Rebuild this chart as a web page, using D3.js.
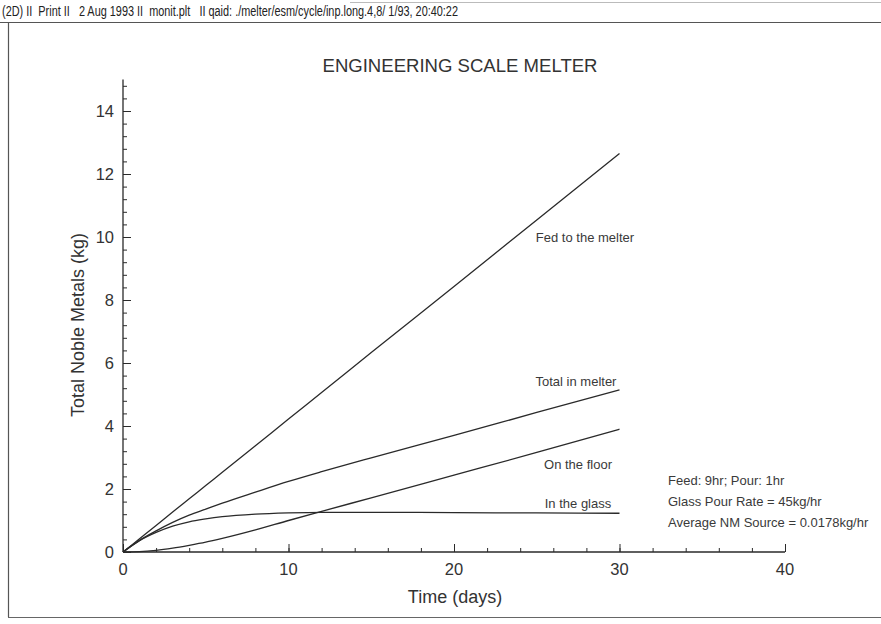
<!DOCTYPE html>
<html>
<head>
<meta charset="utf-8">
<script src="https://cdn.jsdelivr.net/npm/d3@7/dist/d3.min.js"></script>
<style>
  html, body { margin: 0; padding: 0; background: #fff; }
  svg { display: block; }
  text { font-family: "Liberation Sans", Arial, Helvetica, sans-serif; fill: #333; }
</style>
</head>
<body>
<svg id="chart" width="881" height="624"></svg>
<script>
// Simulation output: noble metal inventory in the engineering scale melter
const days          = [0, 1, 2, 3, 4, 5, 6, 8, 10, 12, 15, 20, 25, 30];
const fedToMelter   = [0, 0.42, 0.84, 1.27, 1.69, 2.11, 2.53, 3.37, 4.22, 5.06, 6.33, 8.43, 10.54, 12.65];
const totalInMelter = [0, 0.37, 0.67, 0.94, 1.17, 1.36, 1.55, 1.90, 2.24, 2.55, 2.99, 3.70, 4.43, 5.15];
const onTheFloor    = [0, 0.01, 0.05, 0.12, 0.21, 0.31, 0.43, 0.70, 1.00, 1.29, 1.72, 2.44, 3.16, 3.90];
const inTheGlass    = [0, 0.36, 0.62, 0.82, 0.96, 1.05, 1.12, 1.20, 1.24, 1.26, 1.26, 1.25, 1.24, 1.23];

const seriesNames = ["Fed to the melter", "Total in melter", "On the floor", "In the glass"];
const xTicks = [0, 10, 20, 30, 40];
const yTicks = [0, 2, 4, 6, 8, 10, 12, 14];
const headerText = "(2D) II  Print II   2 Aug 1993 II  monit.plt   II qaid: ./melter/esm/cycle/inp.long.4,8/ 1/93, 20:40:22";
const notes = ["Feed: 9hr; Pour: 1hr", "Glass Pour Rate = 45kg/hr", "Average NM Source = 0.0178kg/hr"];

const svg = d3.select("#chart");
const ink = "#2a2a2a";

// page frame and header strip
svg.append("line").attr("x1", 350).attr("x2", 881).attr("y1", 2.5).attr("y2", 2.5)
  .attr("stroke", "#bbb").attr("stroke-width", 1);
svg.append("line").attr("x1", 0).attr("x2", 881).attr("y1", 22.5).attr("y2", 22.5)
  .attr("stroke", "#555").attr("stroke-width", 1.2);
svg.append("line").attr("x1", 8.5).attr("x2", 8.5).attr("y1", 22).attr("y2", 617)
  .attr("stroke", "#555").attr("stroke-width", 1.2);
svg.append("line").attr("x1", 8).attr("x2", 881).attr("y1", 617.5).attr("y2", 617.5)
  .attr("stroke", "#666").attr("stroke-width", 1.2);
svg.append("text").attr("x", 2).attr("y", 16)
  .attr("textLength", 456).attr("lengthAdjust", "spacingAndGlyphs")
  .attr("xml:space", "preserve").style("white-space", "pre")
  .style("font-family", "'Liberation Sans Narrow', 'Liberation Sans', Arial, sans-serif")
  .style("font-size", "14px").style("fill", "#222")
  .text(headerText);

// scales
const x = d3.scaleLinear().domain([0, 40]).range([123, 785]);
const y = d3.scaleLinear().domain([0, 15]).range([552, 79.5]);

// x axis: ticks drawn inward (upwards)
const xAxis = svg.append("g").attr("transform", `translate(0,${y(0)})`);
xAxis.call(d3.axisTop(x).tickValues(d3.range(0, 41, 2)).tickSize(4).tickFormat(""))
  .call(g => g.select(".domain").remove());
xAxis.append("g").call(d3.axisTop(x).tickValues(xTicks).tickSize(8).tickFormat(""))
  .call(g => g.select(".domain").remove());
xAxis.selectAll("line").attr("stroke", ink).attr("stroke-width", 1);
xAxis.append("line").attr("x1", x(0)).attr("x2", x(40)).attr("stroke", ink).attr("stroke-width", 1.3);
xAxis.selectAll(".xlab").data(xTicks).join("text").attr("class", "xlab")
  .attr("x", d => x(d)).attr("y", 23).attr("text-anchor", "middle")
  .style("font-size", "16.5px").text(d => d);

// y axis: ticks drawn inward (rightwards)
const yAxis = svg.append("g").attr("transform", `translate(${x(0)},0)`);
yAxis.call(d3.axisRight(y).tickValues(d3.range(0, 75, 2).map(v => v / 5)).tickSize(4).tickFormat(""))
  .call(g => g.select(".domain").remove());
yAxis.append("g").call(d3.axisRight(y).tickValues(yTicks).tickSize(8).tickFormat(""))
  .call(g => g.select(".domain").remove());
yAxis.selectAll("line").attr("stroke", ink).attr("stroke-width", 1);
yAxis.append("line").attr("y1", y(0)).attr("y2", y(15)).attr("stroke", ink).attr("stroke-width", 1.3);
yAxis.selectAll(".ylab").data(yTicks).join("text").attr("class", "ylab")
  .attr("x", -9).attr("y", d => y(d) + 6).attr("text-anchor", "end")
  .style("font-size", "16.5px").text(d => d);

// axis titles and chart title
svg.append("text").attr("x", 455).attr("y", 603).attr("text-anchor", "middle")
  .style("font-size", "18px").text("Time (days)");
svg.append("text").attr("transform", "translate(84,325) rotate(-90)").attr("text-anchor", "middle")
  .style("font-size", "18px").text("Total Noble Metals (kg)");
svg.append("text").attr("x", 460).attr("y", 72).attr("text-anchor", "middle")
  .style("font-size", "19px").attr("textLength", 275).attr("lengthAdjust", "spacingAndGlyphs")
  .text("ENGINEERING SCALE MELTER");

// curves
const series = [fedToMelter, totalInMelter, onTheFloor, inTheGlass];
const line = d3.line().x((d, i) => x(days[i])).y(d => y(d)).curve(d3.curveMonotoneX);
svg.append("g").selectAll("path").data(series).join("path")
  .attr("d", line).attr("fill", "none").attr("stroke", ink).attr("stroke-width", 1.3);

// curve labels
const labelPos = [
  { x: 585, y: 242 },
  { x: 576, y: 386 },
  { x: 578, y: 469 },
  { x: 578, y: 508 }
];
svg.append("g").selectAll("text").data(seriesNames).join("text")
  .attr("x", (d, i) => labelPos[i].x).attr("y", (d, i) => labelPos[i].y)
  .attr("text-anchor", "middle").style("font-size", "13px").style("fill", "#3a3a3a")
  .text(d => d);

// run notes
svg.append("g").selectAll("text").data(notes).join("text")
  .attr("x", 668).attr("y", (d, i) => 485 + i * 21)
  .style("font-size", "13px").style("fill", "#3a3a3a").text(d => d);
</script>
</body>
</html>
